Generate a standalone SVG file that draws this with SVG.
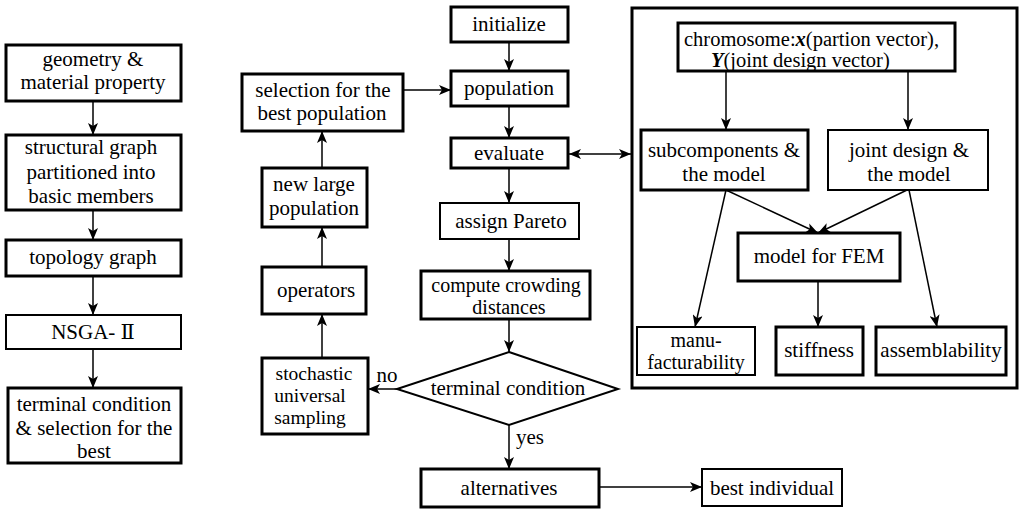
<svg xmlns="http://www.w3.org/2000/svg" width="1023" height="509" viewBox="0 0 1023 509" font-family="'Liberation Serif', 'DejaVu Serif', serif">
<defs>
<style>
text{font-family:'Liberation Serif','DejaVu Serif',serif;font-size:21px;fill:#000;text-anchor:middle}
.b{fill:#fff;stroke:#000;stroke-width:3}
.t{fill:#fff;stroke:#000;stroke-width:2}
.c line{stroke:#000;stroke-width:1.5;fill:none}
.bi{font-weight:bold;font-style:italic}
.s{text-anchor:start;font-size:20.5px}
.m{font-size:20px}
.n{font-size:19.5px}
</style>
<marker id="a" viewBox="0 0 12 10" refX="12" refY="5" markerWidth="12" markerHeight="10" markerUnits="userSpaceOnUse" orient="auto-start-reverse">
<path d="M0,0 L12,5 L0,10 L3,5 z" fill="#000"/>
</marker>
</defs>
<rect width="1023" height="509" fill="#fff"/>

<g class="c">
<line x1="93" y1="101" x2="93" y2="135" marker-end="url(#a)"/>
<line x1="93" y1="210" x2="93" y2="240" marker-end="url(#a)"/>
<line x1="93" y1="276" x2="93" y2="315" marker-end="url(#a)"/>
<line x1="93" y1="349" x2="93" y2="388" marker-end="url(#a)"/>
<line x1="509" y1="42" x2="509" y2="71" marker-end="url(#a)"/>
<line x1="509" y1="106" x2="509" y2="138" marker-end="url(#a)"/>
<line x1="509" y1="168" x2="509" y2="203" marker-end="url(#a)"/>
<line x1="509" y1="239" x2="509" y2="271" marker-end="url(#a)"/>
<line x1="509" y1="319" x2="509" y2="352" marker-end="url(#a)"/>
<line x1="509" y1="425" x2="509" y2="469" marker-end="url(#a)"/>
<line x1="397" y1="389" x2="368" y2="389" marker-end="url(#a)"/>
<line x1="322" y1="358" x2="322" y2="314" marker-end="url(#a)"/>
<line x1="322" y1="267" x2="322" y2="227" marker-end="url(#a)"/>
<line x1="322" y1="168" x2="322" y2="131" marker-end="url(#a)"/>
<line x1="403" y1="90" x2="451" y2="90" marker-end="url(#a)"/>
<line x1="569" y1="154" x2="631" y2="154" marker-start="url(#a)" marker-end="url(#a)"/>
<line x1="599" y1="487" x2="702" y2="487" marker-end="url(#a)"/>
<line x1="726" y1="71" x2="726" y2="130" marker-end="url(#a)"/>
<line x1="908" y1="71" x2="908" y2="130" marker-end="url(#a)"/>
<line x1="726" y1="190" x2="818" y2="233" marker-end="url(#a)"/>
<line x1="907" y1="190" x2="818" y2="233" marker-end="url(#a)"/>
<line x1="726" y1="190" x2="695" y2="327" marker-end="url(#a)"/>
<line x1="909" y1="190" x2="937" y2="327" marker-end="url(#a)"/>
<line x1="818" y1="281" x2="818" y2="327" marker-end="url(#a)"/>
</g>

<g id="geometry"><rect class="b" x="6" y="45" width="175" height="56"/><text x="93" y="66">geometry &amp;</text><text x="93" y="89">material property</text></g>
<g id="structural"><rect class="b" x="6" y="135" width="175" height="75"/><text x="91" y="154">structural graph</text><text x="91" y="179">partitioned into</text><text x="91" y="203">basic members</text></g>
<g id="topology"><rect class="b" x="6" y="240" width="175" height="36"/><text x="93" y="264">topology graph</text></g>
<g id="nsga"><rect class="t" x="6" y="315" width="175" height="34"/><text x="93" y="339">NSGA- Ⅱ</text></g>
<g id="terminal-best"><rect class="b" x="8" y="388" width="173" height="75"/><text x="94" y="411">terminal condition</text><text x="94" y="435">&amp; selection for the</text><text x="94" y="458">best</text></g>

<g id="selection"><rect class="b" x="242" y="74" width="161" height="57"/><text x="323" y="97">selection for the</text><text x="322" y="120">best population</text></g>
<g id="newlarge"><rect class="b" x="262" y="168" width="105" height="59"/><text x="314" y="191">new large</text><text x="314" y="215">population</text></g>
<g id="operators"><rect class="b" x="262" y="267" width="104" height="47"/><text x="316" y="297">operators</text></g>
<g id="stochastic"><rect class="b" x="262" y="358" width="106" height="76"/><text class="n" x="314" y="380">stochastic</text><text class="n" x="310" y="402">universal</text><text class="n" x="310" y="424">sampling</text></g>

<g id="initialize"><rect class="b" x="451" y="7" width="117" height="35"/><text x="509" y="31">initialize</text></g>
<g id="population"><rect class="b" x="451" y="71" width="117" height="35"/><text x="509" y="95">population</text></g>
<g id="evaluate"><rect class="b" x="451" y="138" width="117" height="30"/><text x="509" y="160">evaluate</text></g>
<g id="pareto"><rect class="t" x="440" y="203" width="139" height="36"/><text x="511" y="228">assign Pareto</text></g>
<g id="crowding"><rect class="b" x="421" y="271" width="169" height="48"/><text class="m" x="506" y="292">compute crowding</text><text class="m" x="509" y="314">distances</text></g>
<g id="decision"><polygon class="t" points="509,352 618,389 509,425 397,389"/><text x="508" y="395">terminal condition</text></g>
<text x="387" y="382">no</text>
<text x="530" y="444">yes</text>
<g id="alternatives"><rect class="b" x="421" y="469" width="178" height="38"/><text x="509" y="495">alternatives</text></g>
<g id="bestind"><rect class="t" x="702" y="469" width="140" height="37"/><text x="772" y="495">best individual</text></g>

<g id="bigbox"><rect fill="none" stroke="#000" stroke-width="3" x="632" y="8" width="385" height="380"/></g>
<g id="chromosome"><rect class="b" x="678" y="23" width="277" height="48"/>
<text x="684" y="46" class="s">chromosome:<tspan class="bi">x</tspan>(partion vector),</text>
<text x="711" y="67" class="s"><tspan class="bi">Y</tspan>(joint design vector)</text></g>
<g id="subcomponents"><rect class="b" x="641" y="130" width="167" height="60"/><text x="724" y="157">subcomponents &amp;</text><text x="724" y="181">the model</text></g>
<g id="jointdesign"><rect class="t" x="828" y="130" width="160" height="60"/><text x="909" y="157">joint design &amp;</text><text x="909" y="181">the model</text></g>
<g id="fem"><rect class="b" x="738" y="233" width="162" height="48"/><text x="819" y="263">model for FEM</text></g>
<g id="manu"><rect class="t" x="637" y="327" width="118" height="48"/><text class="m" x="696" y="347">manu-</text><text class="m" x="696" y="369">facturability</text></g>
<g id="stiffness"><rect class="b" x="776" y="327" width="87" height="48"/><text x="819" y="357">stiffness</text></g>
<g id="assemblability"><rect class="b" x="876" y="327" width="130" height="48"/><text x="941" y="357">assemblability</text></g>
</svg>
